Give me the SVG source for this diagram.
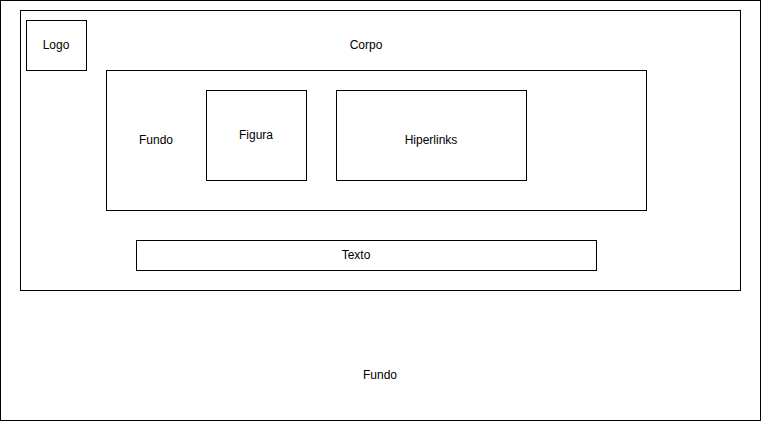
<svg xmlns="http://www.w3.org/2000/svg" width="761" height="421" viewBox="0 0 761 421">
<style>
rect{fill:#fff;stroke:#000;stroke-width:1}
text{font-family:"Liberation Sans",Arial,sans-serif;font-size:12px;fill:#000;text-anchor:middle;dominant-baseline:central}
</style>
<rect x="0" y="0" width="761" height="421" style="stroke:none"/>
<g id="fundo-outer"><rect x="0.5" y="0.5" width="760" height="420"/><text x="380" y="375">Fundo</text></g>
<g id="corpo"><rect x="20.5" y="10.5" width="720" height="280"/><text x="366" y="45">Corpo</text></g>
<g id="logo"><rect x="26.5" y="20.5" width="60" height="50"/><text x="56" y="45">Logo</text></g>
<g id="fundo-inner"><rect x="106.5" y="70.5" width="540" height="140"/><text x="156" y="140">Fundo</text></g>
<g id="figura"><rect x="206.5" y="90.5" width="100" height="90"/><text x="256" y="135">Figura</text></g>
<g id="hiperlinks"><rect x="336.5" y="90.5" width="190" height="90"/><text x="431" y="140">Hiperlinks</text></g>
<g id="texto"><rect x="136.5" y="240.5" width="460" height="30"/><text x="356" y="255">Texto</text></g>
<g id="connectors"></g>
</svg>
